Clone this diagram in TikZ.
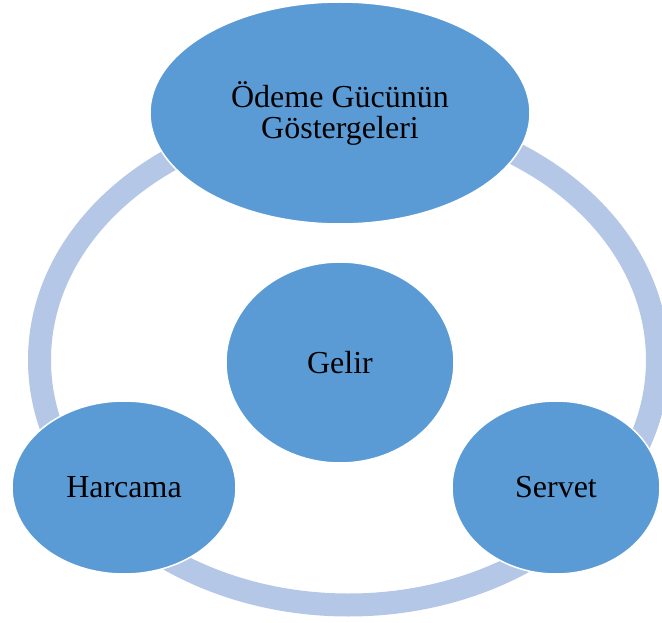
\documentclass[tikz,border=0pt]{standalone}
\usepackage{fontspec}
\setmainfont{Liberation Serif}
\definecolor{cycblue}{RGB}{91,155,213}
\definecolor{cyclight}{RGB}{180,199,231}
\usetikzlibrary{shapes.geometric}
\tikzset{
	blob/.style={ellipse, draw=white, fill=cycblue, line width=1.5pt, inner sep=0pt, align=center, font=\fontsize{32}{31}\selectfont},
	ring/.style={draw=cyclight, line width=23pt},
}

\begin{document}
\begin{tikzpicture}[x=1pt, y=-1pt]
		\useasboundingbox (0,0) rectangle (662,623);
		\coordinate (mid) at (348.5,360);
		\draw[ring] (mid) ellipse [x radius=309, y radius=245];
		\node[blob, minimum width=380pt, minimum height=222pt] (power) at (340,113) {Ödeme Gücünün\\Göstergeleri};
		\node[blob, minimum width=228pt, minimum height=201pt] (income) at (340,362.5) {Gelir};
		\node[blob, minimum width=224pt, minimum height=173pt] (spend) at (124,487.5) {Harcama};
		\node[blob, minimum width=208pt, minimum height=173pt] (wealth) at (556,487.5) {Servet};
	\end{tikzpicture}
\end{document}
